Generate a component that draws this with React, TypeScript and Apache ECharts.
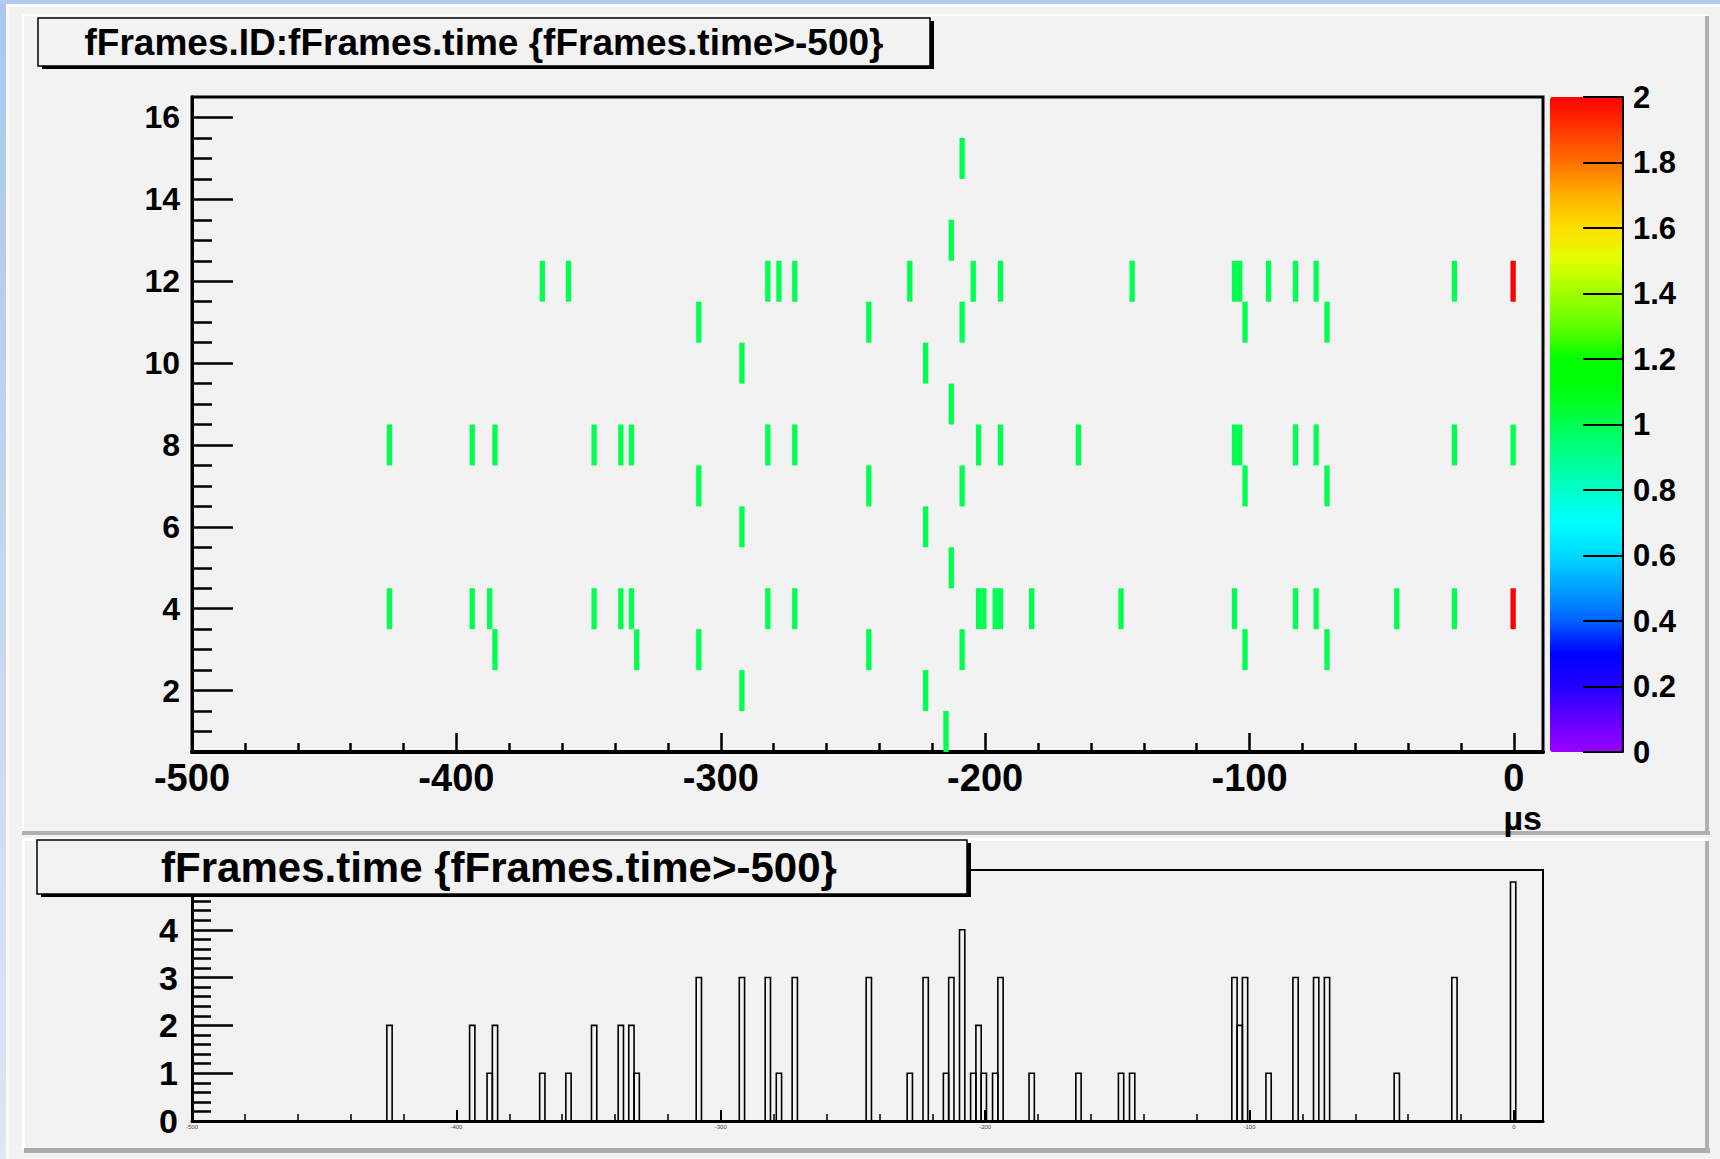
import React, { useEffect, useRef } from "react";
import * as echarts from "echarts";

// ---- data ----
const BIN = 2; // time bin width (µs)

// 2D histogram: times of filled cells for each frame ID (count = 1)
const id1 = [-214.8];
const id2 = [-292, -222.5];
const id3 = [-385.4, -331.8, -308.3, -244, -208.7, -101.7, -70.7];
const id4 = [-425.3, -394, -387.4, -347.9, -337.8, -333.8, -282.2, -272, -202.5, -200.5, -196.2, -194.2, -182.4, -148.6, -105.7, -82.6, -74.8, -44.3, -22.5];
const id5 = [-212.8];
const id6 = [-292, -222.5];
const id7 = [-308.3, -244, -208.7, -101.7, -70.7];
const id8 = [-425.3, -394, -385.4, -347.9, -337.8, -333.8, -282.2, -272, -202.5, -194.2, -164.7, -105.7, -103.7, -82.6, -74.8, -22.5, -0.3];
const id9 = [-212.8];
const id10 = [-292, -222.5];
const id11 = [-308.3, -244, -208.7, -101.7, -70.7];
const id12 = [-367.5, -357.6, -282.2, -278, -272, -228.5, -204.5, -194.2, -144.4, -105.7, -103.7, -92.8, -82.6, -74.8, -22.5];
const id13 = [-212.8];
const id15 = [-208.7];
const rowList: [number, number[]][] = [
  [1, id1], [2, id2], [3, id3], [4, id4], [5, id5], [6, id6], [7, id7], [8, id8],
  [9, id9], [10, id10], [11, id11], [12, id12], [13, id13], [15, id15],
];
// cells holding two entries: [time, ID, count]
const doubleCells = [
  [-0.3, 4, 2],
  [-0.3, 12, 2],
];

// 1D histogram fFrames.time
const histTime = [-425.3, -394, -387.4, -385.4, -367.5, -357.6, -347.9, -337.8, -333.8, -331.8, -308.3, -292, -282.2, -278, -272, -244, -228.5, -222.5, -214.8, -212.8, -208.7, -204.5, -202.5, -200.5, -196.2, -194.2, -182.4, -164.7, -148.6, -144.4, -105.7, -103.7, -101.7, -92.8, -82.6, -74.8, -70.7, -44.3, -22.5, -0.3];
const histCount = [2, 2, 1, 2, 1, 1, 2, 2, 2, 1, 3, 3, 3, 1, 3, 3, 1, 3, 1, 3, 4, 1, 2, 1, 1, 3, 1, 1, 1, 1, 3, 2, 3, 1, 3, 3, 3, 1, 3, 5];

// tick positions
const xMajorTicks = [-500, -400, -300, -200, -100, 0];
const xMinorTicks = [-480, -460, -440, -420, -380, -360, -340, -320, -280, -260, -240, -220, -180, -160, -140, -120, -80, -60, -40, -20];
const yMajorTicks = [2, 4, 6, 8, 10, 12, 14, 16];
const yMinorTicks = [1, 1.5, 2.5, 3, 3.5, 4.5, 5, 5.5, 6.5, 7, 7.5, 8.5, 9, 9.5, 10.5, 11, 11.5, 12.5, 13, 13.5, 14.5, 15, 15.5];
const hMajorTicks = [0, 1, 2, 3, 4];
const hMinorTicks = [0.2, 0.4, 0.6, 0.8, 1.2, 1.4, 1.6, 1.8, 2.2, 2.4, 2.6, 2.8, 3.2, 3.4, 3.6, 3.8, 4.2, 4.4, 4.6, 4.8, 5, 5.2];

// ROOT-like rainbow palette, 0 .. 2 in steps of 0.1
const palette = [
  "#9900ff", "#6000ff", "#2200ff", "#0000ff", "#0060ff", "#00a0ff", "#00d8ff",
  "#00ffff", "#00ffc8", "#00ff90", "#00ff50", "#00ff10", "#00ff00", "#60ff00",
  "#a0ff00", "#e0ff00", "#ffe000", "#ffb000", "#ff7000", "#ff3800", "#ff0000",
];

const FONT = "'Liberation Sans', Arial, Helvetica, sans-serif";

export default function App() {
  const ref = useRef<HTMLDivElement>(null);

  useEffect(() => {
    if (!ref.current) return;
    const chart = echarts.init(ref.current, undefined, { renderer: "svg" });

    const cells: number[][] = [];
    rowList.forEach(([id, times]) => times.forEach((t) => cells.push([t, id, 1])));
    doubleCells.forEach((c) => cells.push(c));
    const hist = histTime.map((t, i) => [t, histCount[i]]);

    const majorLabel = (size: number, margin: number, values: number[]) => ({
      customValues: values,
      fontSize: size,
      fontWeight: "bold",
      fontFamily: FONT,
      color: "#000",
      margin,
    });

    const minorAxis = (gridIndex: number, min: number, max: number, position: string, values: number[], length: number, width: number) => ({
      gridIndex, type: "value", min, max, position,
      axisLine: { show: false, onZero: false },
      axisTick: { show: true, customValues: values, inside: true, length, lineStyle: { color: "#000", width } },
      axisLabel: { show: false },
      splitLine: { show: false },
    });

    const option: any = {
      animation: false,
      backgroundColor: "#f2f2f2",
      textStyle: { fontFamily: FONT },
      grid: [
        { left: 192, top: 97, width: 1351, height: 655, show: true, borderColor: "#000", borderWidth: 3, backgroundColor: "transparent" },
        { left: 192, top: 870, width: 1351, height: 251, show: true, borderColor: "#000", borderWidth: 2, backgroundColor: "transparent" },
        { left: 1550, top: 97, width: 73, height: 655, show: false },
      ],
      xAxis: [
        {
          gridIndex: 0, type: "value", min: -500, max: 11, position: "bottom",
          axisLine: { onZero: false, lineStyle: { color: "#000", width: 4 } },
          axisTick: { customValues: xMajorTicks, inside: true, length: 19, lineStyle: { color: "#000", width: 2.5 } },
          axisLabel: { ...majorLabel(38, 8, xMajorTicks), lineHeight: 36 },
          splitLine: { show: false },
        },
        minorAxis(0, -500, 11, "bottom", xMinorTicks, 9, 2.5),
        {
          gridIndex: 1, type: "value", min: -500, max: 11, position: "bottom",
          axisLine: { onZero: false, lineStyle: { color: "#000", width: 3 } },
          axisTick: { customValues: xMajorTicks, inside: true, length: 11, lineStyle: { color: "#000", width: 2 } },
          axisLabel: { customValues: xMajorTicks, fontSize: 6, color: "#444", margin: 3, fontFamily: FONT },
          splitLine: { show: false },
        },
        minorAxis(1, -500, 11, "bottom", xMinorTicks, 7, 1.5),
        { gridIndex: 2, type: "value", min: 0, max: 1, show: false },
      ],
      yAxis: [
        {
          gridIndex: 0, type: "value", min: 0.5, max: 16.5, position: "left",
          axisLine: { show: true, onZero: false, lineStyle: { color: "#000", width: 3 } },
          axisTick: { show: true, customValues: yMajorTicks, inside: true, length: 41, lineStyle: { color: "#000", width: 2.5 } },
          axisLabel: majorLabel(32, 12, yMajorTicks),
          splitLine: { show: false },
        },
        minorAxis(0, 0.5, 16.5, "left", yMinorTicks, 20, 2.5),
        {
          gridIndex: 1, type: "value", min: 0, max: 5.25, position: "left",
          axisLine: { show: true, onZero: false, lineStyle: { color: "#000", width: 3 } },
          axisTick: { show: true, customValues: hMajorTicks, inside: true, length: 41, lineStyle: { color: "#000", width: 2.5 } },
          axisLabel: majorLabel(34, 14, hMajorTicks),
          splitLine: { show: false },
        },
        minorAxis(1, 0, 5.25, "left", hMinorTicks, 19, 2.5),
        {
          gridIndex: 2, type: "value", min: 0, max: 2, interval: 0.2, position: "right", z: 10,
          axisLine: { show: true, onZero: false, lineStyle: { color: "#000", width: 2 } },
          axisTick: { show: true, inside: true, length: 40, lineStyle: { color: "#000", width: 2 } },
          axisLabel: { fontSize: 31, fontWeight: "bold", color: "#000", margin: 10, fontFamily: FONT },
          splitLine: { show: false },
        },
      ],
      visualMap: {
        type: "continuous",
        min: 0,
        max: 2,
        dimension: 2,
        seriesIndex: 0,
        calculable: false,
        hoverLink: false,
        orient: "vertical",
        left: 1550,
        top: 97,
        padding: 0,
        z: 1,
        itemWidth: 73,
        itemHeight: 655,
        inRange: { color: palette },
      },
      series: [
        {
          type: "custom",
          xAxisIndex: 0,
          yAxisIndex: 0,
          data: cells,
          encode: { x: 0, y: 1 },
          clip: true,
          renderItem: (params: any, api: any) => {
            const t = api.value(0);
            const id = api.value(1);
            const a = api.coord([t - BIN / 2, id + 0.5]);
            const b = api.coord([t + BIN / 2, id - 0.5]);
            return {
              type: "rect",
              shape: { x: a[0], y: a[1], width: b[0] - a[0], height: b[1] - a[1] },
              style: { fill: api.visual("color") },
            };
          },
        },
        {
          type: "custom",
          xAxisIndex: 2,
          yAxisIndex: 2,
          data: hist,
          encode: { x: 0, y: 1 },
          clip: true,
          renderItem: (params: any, api: any) => {
            const t = api.value(0);
            const c = api.value(1);
            const a = api.coord([t - BIN / 2, 0]);
            const b = api.coord([t + BIN / 2, c]);
            return {
              type: "polyline",
              shape: { points: [[a[0], a[1]], [a[0], b[1]], [b[0], b[1]], [b[0], a[1]]] },
              style: { stroke: "#000", fill: "none", lineWidth: 1.6 },
            };
          },
        },
      ],
      graphic: [
        // window frame
        {
          type: "rect", z: 0, shape: { x: 0, y: 0, width: 6, height: 1159 },
          style: { fill: new echarts.graphic.LinearGradient(0, 0, 0, 1, [{ offset: 0, color: "#adc6ec" }, { offset: 1, color: "#dfe6f4" }]) },
        },
        { type: "rect", z: 0, shape: { x: 0, y: 0, width: 1720, height: 4 }, style: { fill: "#b2caed" } },
        { type: "rect", z: 0, shape: { x: 6, y: 4, width: 1714, height: 3 }, style: { fill: "#ffffff" } },
        { type: "rect", z: 0, shape: { x: 6, y: 4, width: 3, height: 1155 }, style: { fill: "#fafafa" } },
        // pad 1 bevel
        { type: "rect", z: 0, shape: { x: 22, y: 14, width: 1686, height: 2 }, style: { fill: "#ffffff" } },
        { type: "rect", z: 0, shape: { x: 22, y: 14, width: 2, height: 818 }, style: { fill: "#ffffff" } },
        { type: "rect", z: 0, shape: { x: 22, y: 831, width: 1688, height: 4 }, style: { fill: "#b0b0b0" } },
        { type: "rect", z: 0, shape: { x: 1705, y: 16, width: 4, height: 819 }, style: { fill: "#b0b0b0" } },
        // pad 2 bevel
        { type: "rect", z: 0, shape: { x: 22, y: 838, width: 1686, height: 3 }, style: { fill: "#ffffff" } },
        { type: "rect", z: 0, shape: { x: 22, y: 838, width: 3, height: 312 }, style: { fill: "#ffffff" } },
        { type: "rect", z: 0, shape: { x: 24, y: 1148, width: 1686, height: 5 }, style: { fill: "#aaaaaa" } },
        { type: "rect", z: 0, shape: { x: 1705, y: 841, width: 4, height: 312 }, style: { fill: "#b0b0b0" } },
        // title box 1
        { type: "rect", z: 50, shape: { x: 42, y: 21, width: 892, height: 48 }, style: { fill: "#000" } },
        { type: "rect", z: 51, shape: { x: 38, y: 18, width: 892, height: 48 }, style: { fill: "#f2f2f2", stroke: "#000", lineWidth: 1.5 } },
        {
          type: "text", z: 52, x: 484, y: 42,
          style: { text: "fFrames.ID:fFrames.time {fFrames.time>-500}", fill: "#000", font: `bold 37px ${FONT}`, align: "center", verticalAlign: "middle" },
        },
        // title box 2
        { type: "rect", z: 50, shape: { x: 41, y: 843, width: 930, height: 54 }, style: { fill: "#000" } },
        { type: "rect", z: 51, shape: { x: 37, y: 840, width: 930, height: 54 }, style: { fill: "#f2f2f2", stroke: "#000", lineWidth: 1.5 } },
        {
          type: "text", z: 52, x: 499, y: 867,
          style: { text: "fFrames.time {fFrames.time>-500}", fill: "#000", font: `bold 42px ${FONT}`, align: "center", verticalAlign: "middle" },
        },
        // axis unit
        {
          type: "text", z: 52, x: 1542, y: 818,
          style: { text: "µs", fill: "#000", font: `bold 34px ${FONT}`, align: "right", verticalAlign: "middle" },
        },
      ],
    };

    chart.setOption(option);
    return () => chart.dispose();
  }, []);

  return (
    <div
      ref={ref}
      style={{ position: "fixed", left: 0, top: 0, width: 1720, height: 1159 }}
    />
  );
}
